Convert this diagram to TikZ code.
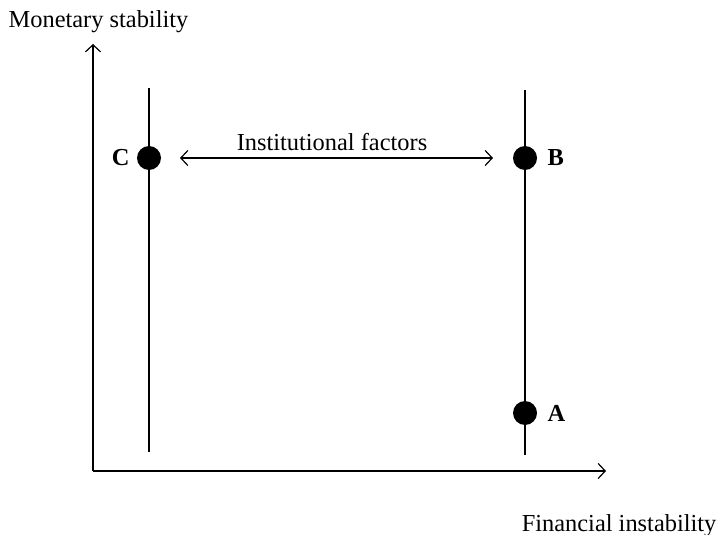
\documentclass[tikz,border=0pt]{standalone}
\usepackage{fontspec}
\setmainfont{Liberation Serif}
\usetikzlibrary{arrows.meta}
\usetikzlibrary{positioning}

\begin{document}
\begin{tikzpicture}[
	x=1bp, y=-1bp,
	line width=1.3bp,
	font=\fontsize{24.5}{29}\selectfont
]
\tikzset{
    axisarrow/.style = {-{Straight Barb[length=7bp,width=15bp,line width=1.2bp]}},
    botharrow/.style = {{Straight Barb[length=7bp,width=15bp,line width=1.2bp]}-{Straight Barb[length=7bp,width=15bp,line width=1.2bp]}},
    mydot/.style = {circle, fill=black, inner sep=0pt, minimum size=24bp},
    letter/.style = {font=\fontsize{24.5}{29}\selectfont\bfseries}
}
\useasboundingbox (0,0) rectangle (717,535);
% axes
\coordinate (origin) at (93,471);
\coordinate (ytop) at (93,44);
\coordinate (xend) at (606,471);
\draw[axisarrow] (origin) -- (ytop);
\draw[axisarrow] (origin) -- (xend);
\node[anchor=base west,inner sep=0pt] (ylabel) at (8,28) {Monetary stability};
\node[anchor=base east,inner sep=0pt] (xlabel) at (717,531) {Financial instability};
% vertical lines
\coordinate (ltop) at (149,88);
\coordinate (lbot) at (149,452);
\coordinate (rtop) at (525,90);
\coordinate (rbot) at (525,455);
\draw (ltop) -- (lbot);
\draw (rtop) -- (rbot);
% points
\node[mydot] (C) at (149,158) {};
\node[mydot] (B) at (525,158) {};
\node[mydot] (A) at (525,413) {};
\node[letter,left=3bp of C] (Clab) {C};
\node[letter,right=6bp of B] (Blab) {B};
\node[letter,right=6bp of A] (Alab) {A};
% arrow between C and B
\coordinate (arrl) at (180,158);
\coordinate (arrr) at (493,158);
\draw[botharrow] (arrl) -- (arrr);
\node[inner sep=0pt] (inst) at (332,142) {Institutional factors};
\end{tikzpicture}
\end{document}
